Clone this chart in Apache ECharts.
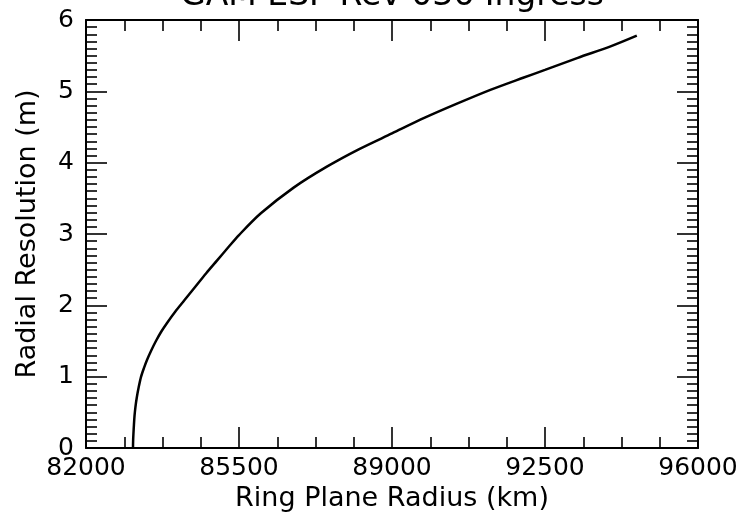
<!DOCTYPE html>
<html>
<head>
<meta charset="utf-8">
<script src="https://cdn.jsdelivr.net/npm/echarts@6/dist/echarts.min.js"></script>
<style>
html,body{margin:0;padding:0;background:#fff;}
#chart{width:746px;height:512px;}
</style>
</head>
<body>
<div id="chart"></div>
<script>
const titleText = 'GAM ESP Rev 036 Ingress';
const xName = 'Ring Plane Radius (km)';
const yName = 'Radial Resolution (m)';
const xTicks = [82000, 85500, 89000, 92500, 96000];
const yTicks = [0, 1, 2, 3, 4, 5, 6];
const radiusKm = [83075, 83078, 83085, 83097, 83110, 83130, 83160, 83205, 83260, 83325, 83400, 83495, 83600, 83720, 83850, 84040, 84250, 84500, 84750, 85000, 85250, 85500, 86000, 86750, 87500, 88250, 89000, 89750, 90500, 91250, 92000, 92500, 93250, 94000, 94600];
const resolutionM = [0.00, 0.10, 0.20, 0.33, 0.45, 0.57, 0.70, 0.85, 1.00, 1.12, 1.24, 1.37, 1.50, 1.63, 1.75, 1.91, 2.07, 2.26, 2.45, 2.63, 2.81, 2.985, 3.29, 3.65, 3.94, 4.19, 4.41, 4.63, 4.83, 5.02, 5.19, 5.30, 5.47, 5.63, 5.78];

const font = 'DejaVu Sans';
const data = radiusKm.map((x, i) => [x, resolutionM[i]]);

function xAx(pos, show) {
  return {
    type: 'value', position: pos,
    min: xTicks[0], max: xTicks[xTicks.length - 1], interval: xTicks[1] - xTicks[0],
    name: show ? xName : '', nameLocation: 'middle', nameGap: 33,
    nameTextStyle: {fontFamily: font, fontSize: 27, color: '#000'},
    axisLine: {show: true, onZero: false, lineStyle: {color: '#000', width: 2}},
    axisTick: {show: true, inside: true, length: 21, lineStyle: {color: '#000', width: 1.6}},
    minorTick: {show: true, splitNumber: 4, length: 11, lineStyle: {color: '#000', width: 1.6}},
    axisLabel: {show: show, margin: 8, fontFamily: font, fontSize: 25, color: '#000',
      formatter: v => String(v)},
    splitLine: {show: false}
  };
}
function yAx(pos, show) {
  return {
    type: 'value', position: pos,
    min: yTicks[0], max: yTicks[yTicks.length - 1], interval: 1,
    name: show ? yName : '', nameLocation: 'middle', nameGap: 45,
    nameTextStyle: {fontFamily: font, fontSize: 27, color: '#000'},
    axisLine: {show: true, onZero: false, lineStyle: {color: '#000', width: 2}},
    axisTick: {show: true, inside: true, length: 21, lineStyle: {color: '#000', width: 1.6}},
    minorTick: {show: true, splitNumber: 10, length: 11, lineStyle: {color: '#000', width: 1.6}},
    axisLabel: {show: show, margin: 12, fontFamily: font, fontSize: 25, color: '#000',
      formatter: v => String(v)},
    splitLine: {show: false}
  };
}

const chart = echarts.init(document.getElementById('chart'), null, {renderer: 'canvas'});
chart.setOption({
  backgroundColor: '#fff',
  animation: false,
  grid: {left: 86, right: 48, top: 20, bottom: 64, containLabel: false, outerBoundsMode: 'none'},
  graphic: [{
    type: 'text', x: 392, y: -20,
    style: {text: titleText, fontFamily: font, fontSize: 33, fill: '#000', align: 'center', verticalAlign: 'top'}
  }],
  xAxis: [xAx('bottom', true), xAx('top', false)],
  yAxis: [yAx('left', true), yAx('right', false)],
  series: [{
    type: 'line', xAxisIndex: 0, yAxisIndex: 0,
    data: data, showSymbol: false, smooth: 0.3,
    lineStyle: {color: '#000', width: 2.5}
  }]
});
</script>
</body>
</html>
